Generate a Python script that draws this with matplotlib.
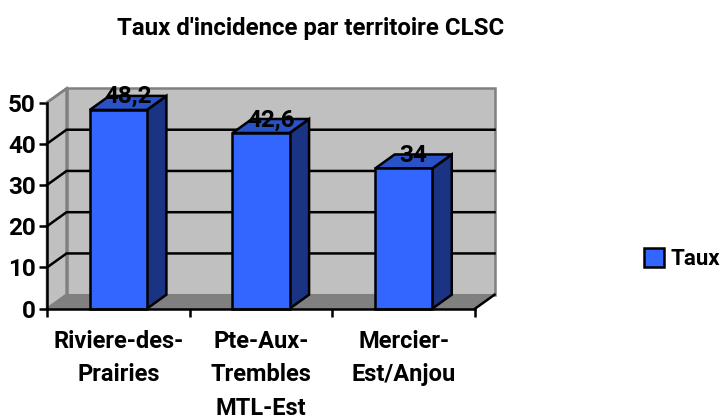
import matplotlib
matplotlib.use("Agg")
import matplotlib.pyplot as plt
from matplotlib.patches import Polygon, Patch

plt.rcParams["font.family"] = ["Roboto", "DejaVu Sans"]

title = "Taux d'incidence par territoire CLSC"
categories = ["Riviere-des-\nPrairies", "Pte-Aux-\nTrembles\nMTL-Est", "Mercier-\nEst/Anjou"]
values = [48.2, 42.6, 34]
value_labels = ["48,2", "42,6", "34"]
y_ticks = [0, 10, 20, 30, 40, 50]
series_name = "Taux"

W, H = 727, 420
BLUE = "#3366ff"
BLUE_TOP = "#2a52c8"
BLUE_SIDE = "#1a3382"
WALL = "#c0c0c0"
FLOOR = "#808080"
DX, DY = 0.137, 3.4  # 3D depth offset in data units
BAR_W = 0.4
LW = 1.8

fig = plt.figure(figsize=(W / 100, H / 100), dpi=100)
ax = fig.add_axes([47 / W, 1 - 308.7 / H, 428 / W, 206.2 / H])
ax.set_xlim(-0.5, 2.5)
ax.set_ylim(0, 50)
ax.patch.set_visible(False)
for s in ("top", "right"):
    ax.spines[s].set_visible(False)
for s in ("left", "bottom"):
    ax.spines[s].set_linewidth(LW)
    ax.spines[s].set_zorder(6)


def poly(pts, fc, ec="black", lw=LW, z=2):
    ax.add_patch(Polygon(pts, closed=True, fc=fc, ec=ec, lw=lw, zorder=z,
                         clip_on=False, joinstyle="miter"))


x0, x1 = ax.get_xlim()
top = y_ticks[-1]
# back wall, side wall, floor
poly([(x0 + DX, DY), (x1 + DX, DY), (x1 + DX, top + DY), (x0 + DX, top + DY)], WALL, FLOOR, 1.8, 1)
poly([(x0, 0), (x0 + DX, DY), (x0 + DX, top + DY), (x0, top)], WALL, FLOOR, 1.8, 1)
poly([(x0, 0), (x1, 0), (x1 + DX, DY), (x0 + DX, DY)], FLOOR, FLOOR, 1, 1)
ax.plot([x1, x1 + DX], [0, DY], color="black", lw=LW, zorder=3, clip_on=False)

# gridlines across both walls
for t in y_ticks[1:-1]:
    ax.plot([x0, x0 + DX, x1 + DX], [t, t + DY, t + DY], color="black", lw=LW,
            zorder=2, clip_on=False, solid_joinstyle="miter")
ax.plot([x0, x0 + DX], [top, top + DY], color=FLOOR, lw=LW, zorder=2, clip_on=False)

# bars
for i, v in enumerate(values):
    l, r = i - BAR_W / 2, i + BAR_W / 2
    ax.bar(i, v, BAR_W, color=BLUE, edgecolor="black", linewidth=LW, zorder=4, clip_on=False)
    poly([(r, 0), (r + DX, DY), (r + DX, v + DY), (r, v)], BLUE_SIDE, z=3)
    poly([(l, v), (r, v), (r + DX, v + DY), (l + DX, v + DY)], BLUE_TOP, z=3)
    ax.text(i + DX / 2, v + DY - 0.2, value_labels[i], ha="center", va="center",
            fontsize=17.5, fontweight="bold", zorder=7, color="black")

ax.set_yticks(y_ticks)
ax.set_yticklabels([str(t) for t in y_ticks], fontsize=17.5, fontweight="bold")
ax.set_xticks([-0.5, 0.5, 1.5, 2.5])
ax.set_xticklabels([])
ax.set_xticks(range(len(categories)), categories, minor=True, fontsize=17,
              fontweight="bold", linespacing=1.6)
ax.tick_params(axis="x", which="minor", length=0, pad=15)
ax.tick_params(axis="x", which="major", length=6, width=LW)
ax.tick_params(axis="y", length=6, width=LW, pad=2)

fig.text(311 / W, 1 - 28 / H, title, ha="center", va="center", fontsize=17.3, fontweight="bold")
fig.legend(handles=[Patch(fc=BLUE, ec="black", lw=LW, label=series_name)],
           loc="center left", bbox_to_anchor=(637 / W, 1 - 259 / H), frameon=False,
           handlelength=0.9, handleheight=0.9, handletextpad=0.3, borderaxespad=0, borderpad=0.3,
           prop={"size": 16, "weight": "bold"})

fig.savefig("out.png", dpi=100)
